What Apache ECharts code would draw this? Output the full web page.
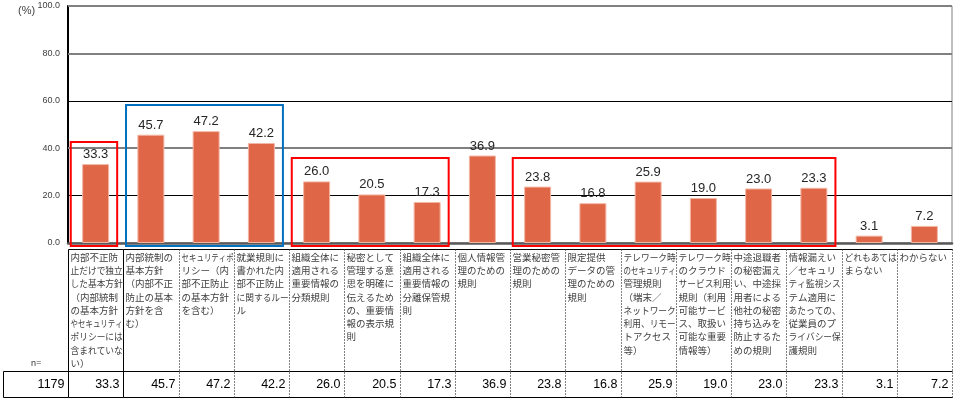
<!DOCTYPE html>
<html><head><meta charset="utf-8">
<script src="https://cdn.jsdelivr.net/npm/echarts@6/dist/echarts.min.js"></script>
<style>html,body{margin:0;padding:0;background:#fff}#c{width:958px;height:403px}</style>
</head><body><div id="c"></div>
<script>
// ---- data ----
const categories = [
  '内部不正防\n止だけで独立\nした基本方針\n（内部統制\nの基本方針\nやセキュリティ\nポリシーには\n含まれていな\nい）',
  '内部統制の\n基本方針\n（内部不正\n防止の基本\n方針を含\nむ）',
  'セキュリティポ\nリシー（内\n部不正防止\nの基本方針\nを含む）',
  '就業規則に\n書かれた内\n部不正防止\nに関するルー\nル',
  '組織全体に\n適用される\n重要情報の\n分類規則',
  '秘密として\n管理する意\n思を明確に\n伝えるため\nの、重要情\n報の表示規\n則',
  '組織全体に\n適用される\n重要情報の\n分離保管規\n則',
  '個人情報管\n理のための\n規則',
  '営業秘密管\n理のための\n規則',
  '限定提供\nデータの管\n理のための\n規則',
  'テレワーク時\nのセキュリティ\n管理規則\n（端末／\nネットワーク\n利用、リモー\nトアクセス\n等）',
  'テレワーク時\nのクラウド\nサービス利用\n規則（利用\n可能サービ\nス、取扱い\n可能な重要\n情報等）',
  '中途退職者\nの秘密漏え\nい、中途採\n用者による\n他社の秘密\n持ち込みを\n防止するた\nめの規則',
  '情報漏えい\n／セキュリ\nティ監視シス\nテム適用に\nあたっての、\n従業員のプ\nライバシー保\n護規則',
  'どれもあては\nまらない',
  'わからない'
];
const values = [33.3, 45.7, 47.2, 42.2, 26.0, 20.5, 17.3, 36.9, 23.8, 16.8, 25.9, 19.0, 23.0, 23.3, 3.1, 7.2];
const nLabel = 'n=';
const nValue = 1179;
const yTicks = [0, 20, 40, 60, 80, 100];
const grayGridValues = [40, 80, 100];
const unitLabel = '(%)';
// annotation boxes: [firstCategory, lastCategory, topValue, colorKey]
const boxStart = [0, 1, 4, 8];
const boxEnd = [0, 3, 6, 13];
const boxTop = [42.6, 58.2, 35.9, 35.9];
const boxColorKey = ['red', 'blue', 'red', 'red'];

// ---- rendering ----
const boxColors = { red: '#FF0000', blue: '#0070C0' };
const CJK = '"Noto Sans CJK JP", sans-serif';
const LAT = '"Liberation Sans", Arial, sans-serif';
const measureCtx = document.createElement('canvas').getContext('2d');
const LBL_FS = 9.5;
measureCtx.font = LBL_FS + 'px ' + CJK;

const chart = echarts.init(document.getElementById('c'), null, { renderer: 'canvas' });

function renderTable(params, api) {
  const idx = api.value(0);
  const c = api.coord([idx, 0]);
  const bw = api.size([1, 0])[0];
  const x0 = Math.round(c[0] - bw / 2) + 0.5;
  const x1 = Math.round(c[0] + bw / 2) + 0.5;
  const y0 = c[1];
  const tTop = Math.round(y0 + 6) + 0.5;
  const rTop = Math.round(y0 + 128) + 0.5;
  const tBot = Math.round(y0 + 154) + 0.5;
  const kids = [];
  const solid = { stroke: '#000', lineWidth: 1 };
  const dotted = { stroke: '#000', lineWidth: 1, lineDash: [1, 2] };
  kids.push({ type: 'line', shape: { x1: x0, y1: tTop, x2: x1, y2: tTop }, style: solid });
  kids.push({ type: 'line', shape: { x1: x0, y1: rTop, x2: x1, y2: rTop }, style: solid });
  kids.push({ type: 'line', shape: { x1: x0, y1: tBot, x2: x1, y2: tBot }, style: solid });
  kids.push({ type: 'line', shape: { x1: x1, y1: tTop, x2: x1, y2: tBot }, style: idx === 0 ? solid : dotted });
  if (idx === 0) {
    const lx = 3.5;
    kids.push({ type: 'line', shape: { x1: x0, y1: tTop, x2: x0, y2: tBot }, style: solid });
    kids.push({ type: 'line', shape: { x1: lx, y1: rTop, x2: x0, y2: rTop }, style: solid });
    kids.push({ type: 'line', shape: { x1: lx, y1: tBot, x2: x0, y2: tBot }, style: solid });
    kids.push({ type: 'line', shape: { x1: lx, y1: rTop, x2: lx, y2: tBot }, style: solid });
    kids.push({ type: 'text', x: (lx + x0) / 2, y: rTop - 9,
      style: { text: nLabel, fill: '#404040', fontSize: 9, fontFamily: CJK, align: 'center', verticalAlign: 'middle' } });
    kids.push({ type: 'text', x: x0 - 4, y: (rTop + tBot) / 2,
      style: { text: String(nValue), fill: '#000', fontSize: 12.5, fontFamily: LAT, align: 'right', verticalAlign: 'middle' } });
  }
  const lines = categories[idx].split('\n');
  const avail = bw - 3;
  lines.forEach(function (ln, i) {
    const w = measureCtx.measureText(ln).width;
    const s = w > avail ? avail / w : 1;
    kids.push({ type: 'text', x: x0 + 2, y: y0 + 14 + i * 13.3, scaleX: s,
      style: { text: ln, x: 0, y: 0, fill: '#404040', fontSize: LBL_FS, fontFamily: CJK, align: 'left', verticalAlign: 'middle' } });
  });
  kids.push({ type: 'text', x: x1 - 4, y: (rTop + tBot) / 2,
    style: { text: values[idx].toFixed(1), fill: '#000', fontSize: 12.5, fontFamily: LAT, align: 'right', verticalAlign: 'middle' } });
  return { type: 'group', children: kids };
}

function renderBox(params, api) {
  const s = api.value(0), e = api.value(1), top = api.value(2);
  const bw = api.size([1, 0])[0];
  const left = api.coord([s, 0])[0] - bw * 0.45;
  const right = api.coord([e, 0])[0] + bw * 0.39;
  const yTop = api.coord([s, top])[1];
  const yBot = api.coord([s, 0])[1] + 3;
  return { type: 'rect', shape: { x: left, y: yTop, width: right - left, height: yBot - yTop },
    style: { fill: 'none', stroke: boxColors[boxColorKey[params.dataIndex]], lineWidth: 2 } };
}

chart.setOption({
  animation: false,
  backgroundColor: '#fff',
  title: { text: unitLabel, left: 13, top: 0, textStyle: { fontSize: 11, fontWeight: 'normal', color: '#404040', fontFamily: LAT } },
  grid: { left: 68, right: 6, top: 6, bottom: 160, show: true, borderColor: '#808080', borderWidth: 1 },
  xAxis: {
    type: 'category', data: categories.map(function (_, i) { return i; }),
    axisLabel: { show: false }, axisTick: { show: false },
    axisLine: { lineStyle: { color: '#595959', width: 2.5 } },
    splitLine: { show: false }
  },
  yAxis: {
    type: 'value', min: yTicks[0], max: yTicks[yTicks.length - 1], interval: yTicks[1] - yTicks[0],
    axisLine: { show: true, lineStyle: { color: '#000', width: 2 } },
    axisTick: { show: false },
    axisLabel: { formatter: function (v) { return v.toFixed(1); }, fontSize: 9, color: '#404040', margin: 8, fontFamily: LAT },
    splitLine: { lineStyle: { color: ['#595959', '#000000', '#808080', '#000000', '#808080', '#808080'], width: 1 } }
  },
  series: [
    {
      type: 'bar', data: values, barWidth: 27,
      itemStyle: { color: '#DF6646', borderColor: '#F3B7A5', borderWidth: 1 },
      label: { show: true, position: 'top', distance: 3, formatter: function (p) { return p.value.toFixed(1); },
        fontSize: 13, color: '#262626', fontFamily: LAT },
      markLine: {
        silent: true, symbol: 'none', label: { show: false },
        lineStyle: { color: '#808080', width: 2, type: 'solid' },
        data: grayGridValues.map(function (v) { return { yAxis: v }; }),
        z: 1
      },
      z: 3
    },
    {
      type: 'custom', clip: false, renderItem: renderTable, silent: true,
      data: values.map(function (_, i) { return [i, 0]; }),
      encode: { x: 0, y: 1 }, z: 4
    },
    {
      type: 'custom', clip: false, renderItem: renderBox, silent: true,
      data: boxStart.map(function (s, i) { return [s, boxEnd[i], boxTop[i]]; }),
      encode: { x: [0, 1], y: 2 }, z: 5
    }
  ]
});
</script>
</body></html>
